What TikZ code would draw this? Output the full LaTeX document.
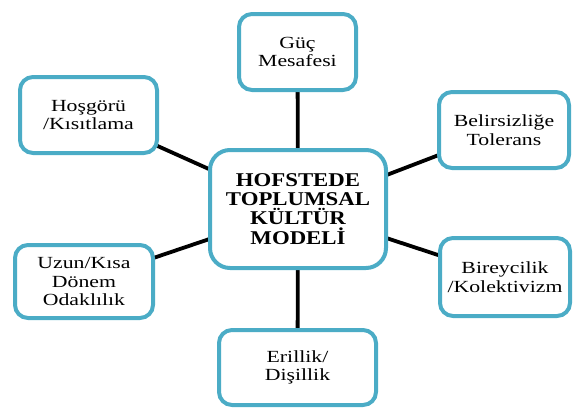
\documentclass[tikz,border=0pt]{standalone}
\usepackage{fontspec}
\usetikzlibrary{backgrounds}
\newfontfamily\boxfont{Liberation Serif}[FakeStretch=1.28]
\newfontfamily\hubfont{Liberation Serif}[FakeStretch=1.17]
\definecolor{frame}{RGB}{75,172,198}
\tikzset{
  dimbox/.style={draw=frame, line width=4pt, fill=white, rounded corners=13pt,
    align=center, inner sep=0pt,
    font=\boxfont\fontsize{17}{18.5}\selectfont},
  hubbox/.style={draw=frame, line width=4pt, fill=white, rounded corners=20pt,
    align=center, inner sep=0pt,
    font=\hubfont\bfseries\fontsize{19.5}{19.2}\selectfont},
  link/.style={draw=black, line width=3.8pt}
}
\begin{document}
\begin{tikzpicture}[x=1pt, y=-1pt]
  \useasboundingbox (0,0) rectangle (574,410);
  % central model box
  \node[hubbox, minimum width=176pt, minimum height=118pt] (hub) at (298,209)
    {HOFSTEDE\\TOPLUMSAL\\KÜLTÜR\\MODELİ};
  % six cultural dimensions
  \node[dimbox, minimum width=117pt, minimum height=76pt] (guc) at (297.5,52)
    {Güç\\Mesafesi};
  \node[dimbox, minimum width=137pt, minimum height=76pt] (hos) at (88.5,115)
    {Hoşgörü\\/Kısıtlama};
  \node[dimbox, minimum width=130pt, minimum height=76pt] (bel) at (504,130)
    {Belirsizliğe\\Tolerans};
  \node[dimbox, minimum width=138pt, minimum height=73pt] (uzun) at (84,281.5)
    {Uzun/Kısa\\Dönem\\Odaklılık};
  \node[dimbox, minimum width=130pt, minimum height=78pt] (bir) at (505,277)
    {Bireycilik\\/Kolektivizm};
  \node[dimbox, minimum width=157pt, minimum height=75pt] (eril) at (297.5,367.5)
    {Erillik/\\Dişillik};
  % connectors, drawn behind the boxes
  \begin{scope}[on background layer]
    \path[link] (hub.center) -- (guc.center);
    \path[link] (hub.center) -- (hos.center);
    \path[link] (hub.center) -- (bel.center);
    \path[link] (hub.center) -- (uzun.center);
    \path[link] (hub.center) -- (bir.center);
    \path[link] (hub.center) -- (eril.center);
  \end{scope}
\end{tikzpicture}
\end{document}
